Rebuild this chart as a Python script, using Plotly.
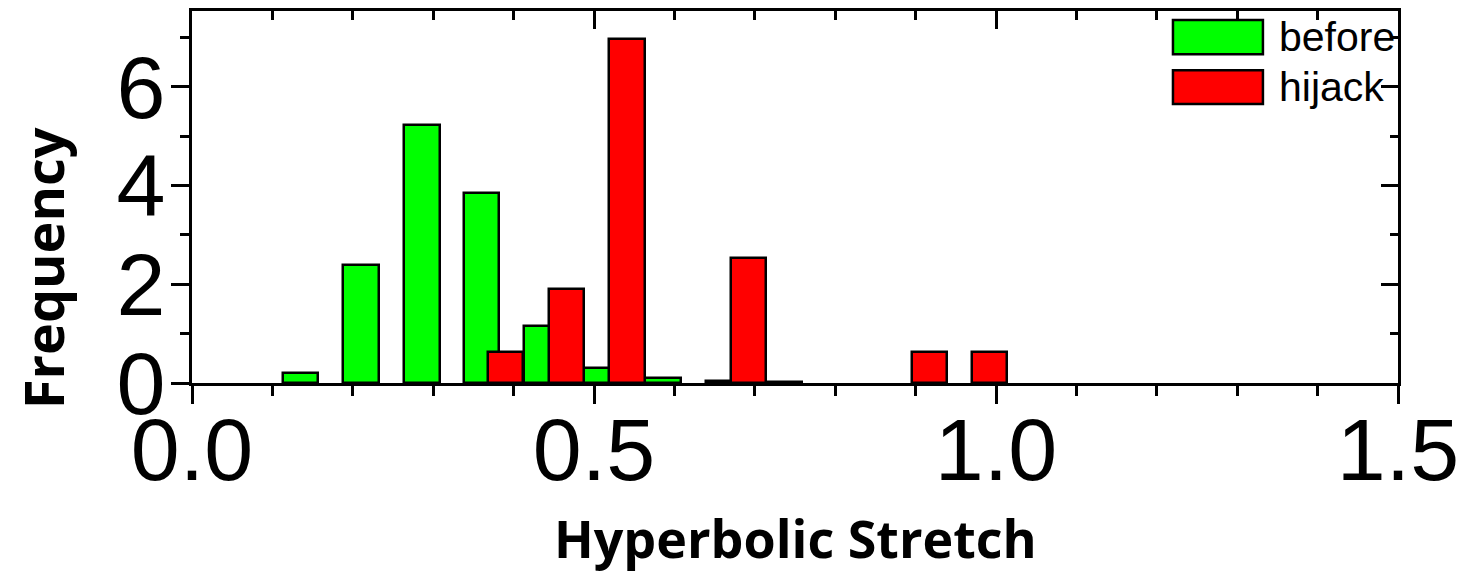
import plotly.graph_objects as go

# Data
before_x = [0.135, 0.210, 0.286, 0.360, 0.435, 0.510, 0.586, 0.661, 0.737]
before_y = [0.20, 2.40, 5.22, 3.85, 1.16, 0.30, 0.10, 0.04, 0.02]
hijack_x = [0.390, 0.466, 0.541, 0.692, 0.917, 0.992]
hijack_y = [0.63, 1.90, 6.98, 2.54, 0.63, 0.63]
series_names = ["before", "hijack"]
series_colors = ["#00FF00", "#FF0000"]
x_ticks = [0.0, 0.5, 1.0, 1.5]
x_ticktext = ["0.0", "0.5", "1.0", "1.5"]
y_ticks = [0, 2, 4, 6]
y_ticktext = ["0", "2", "4", "6"]
x_title = "Hyperbolic Stretch"
y_title = "Frequency"

BAR_W = 0.044
XR = [0, 1.5]
YR = [0, 7.54]
TICKFONT = dict(family="Liberation Sans, Arial", size=88, color="black")

fig = go.Figure()
for name, xs, ys, col in [(series_names[0], before_x, before_y, series_colors[0]),
                          (series_names[1], hijack_x, hijack_y, series_colors[1])]:
    fig.add_trace(go.Bar(x=xs, y=ys, width=BAR_W, name=name,
                         marker=dict(color=col, line=dict(color="black", width=2.5)),
                         showlegend=False))

# invisible trace to activate mirrored (inward-tick) axes
fig.add_trace(go.Scatter(x=[None], y=[None], xaxis="x2", yaxis="y2",
                         showlegend=False, hoverinfo="skip"))

axis_common = dict(showline=True, linecolor="black", linewidth=3, showgrid=False,
                   zeroline=False, automargin=False, tickcolor="black", tickwidth=3)

fig.update_layout(
    template="none",
    width=1462, height=565,
    paper_bgcolor="white", plot_bgcolor="white",
    margin=dict(l=184, r=72, t=3, b=190),
    barmode="overlay",
    bargap=0,
    xaxis=dict(range=XR, tickvals=x_ticks, ticktext=x_ticktext, tickfont=TICKFONT,
               ticks="outside", ticklen=18, ticklabelstandoff=-30,
               minor=dict(dtick=0.1, tick0=0, ticks="outside", ticklen=10,
                          tickwidth=3, tickcolor="black", showgrid=False),
               **axis_common),
    yaxis=dict(range=YR, tickvals=y_ticks, ticktext=y_ticktext, tickfont=TICKFONT,
               ticks="outside", ticklen=18, ticklabelstandoff=-12,
               minor=dict(dtick=1, tick0=1, ticks="outside", ticklen=9,
                          tickwidth=3, tickcolor="black", showgrid=False),
               **axis_common),
    xaxis2=dict(range=XR, overlaying="x", side="top", anchor="y2",
                tickvals=x_ticks, showticklabels=False,
                ticks="inside", ticklen=18,
                minor=dict(dtick=0.1, tick0=0, ticks="inside", ticklen=9,
                           tickwidth=3, tickcolor="black", showgrid=False),
                **axis_common),
    yaxis2=dict(range=YR, overlaying="y", side="right", anchor="x2",
                tickvals=y_ticks, showticklabels=False,
                ticks="inside", ticklen=17,
                minor=dict(dtick=1, tick0=1, ticks="inside", ticklen=8,
                           tickwidth=3, tickcolor="black", showgrid=False),
                **axis_common),
)

# Axis titles
fig.add_annotation(xref="paper", yref="paper", x=0.5, y=-0.4140,
                   text="<b>" + x_title + "</b>", showarrow=False,
                   xanchor="center", yanchor="middle",
                   font=dict(family="Open Sans", size=52, color="black"))
fig.add_annotation(xref="paper", yref="paper", x=-0.1235, y=0.309,
                   text="<b>" + y_title + "</b>", showarrow=False, textangle=-90,
                   xanchor="center", yanchor="middle",
                   font=dict(family="Open Sans", size=54, color="black"))

# Legend drawn as swatches + text (paper coordinates)
leg_rows = [(0.976, 0.884), (0.841, 0.750)]
for (y1, y0), name, col in zip(leg_rows, series_names, series_colors):
    fig.add_shape(type="rect", xref="paper", yref="paper",
                  x0=0.8134, x1=0.888, y0=y0, y1=y1,
                  fillcolor=col, line=dict(color="black", width=2.5))
    fig.add_annotation(xref="paper", yref="paper", x=0.8996, y=(y0 + y1) / 2,
                       text=name, showarrow=False, xanchor="left", yanchor="middle",
                       font=dict(family="Liberation Sans, Arial", size=41, color="black"))

fig.write_html("out.html")
